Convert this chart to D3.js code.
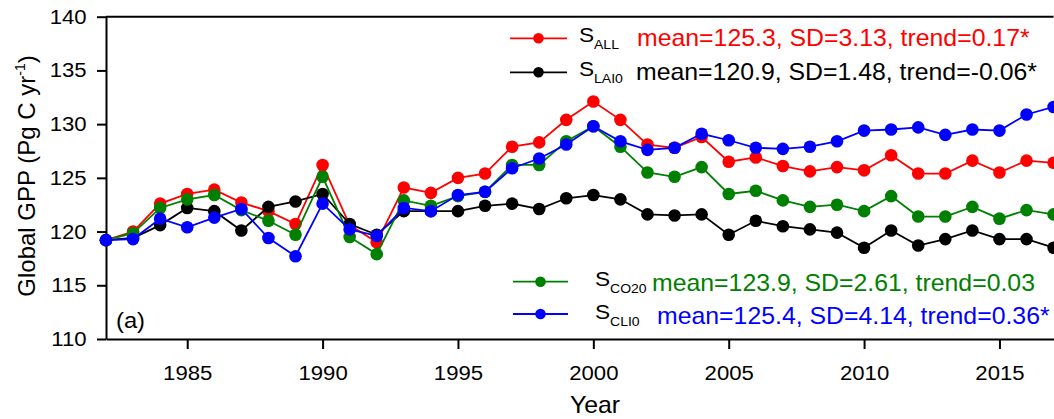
<!DOCTYPE html>
<html>
<head>
<meta charset="utf-8">
<script src="https://cdn.jsdelivr.net/npm/d3@7/dist/d3.min.js"></script>
<style>
  body { margin: 0; background: #fff; }
  text { font-family: "Liberation Sans", Arial, sans-serif; }
</style>
</head>
<body>
<div id="chart"></div>
<script>
// years on the x axis
var years = [1982, 1983, 1984, 1985, 1986, 1987, 1988, 1989, 1990, 1991, 1992, 1993,
             1994, 1995, 1996, 1997, 1998, 1999, 2000, 2001, 2002, 2003, 2004, 2005,
             2006, 2007, 2008, 2009, 2010, 2011, 2012, 2013, 2014, 2015, 2016, 2017];

// global GPP (Pg C / yr)
var sAll  = [119.2, 120.0, 122.6, 123.5, 123.9, 122.7, 121.9, 120.7, 126.2, 120.6, 119.0, 124.1,
             123.6, 125.0, 125.4, 127.9, 128.3, 130.4, 132.1, 130.4, 128.1, 127.8, 128.8, 126.5,
             126.9, 126.1, 125.6, 126.0, 125.7, 127.1, 125.4, 125.4, 126.6, 125.5, 126.6, 126.4];
var sLai0 = [119.2, 119.4, 120.6, 122.2, 121.9, 120.1, 122.3, 122.8, 123.5, 120.7, 119.7, 121.9,
             121.9, 121.9, 122.4, 122.6, 122.1, 123.1, 123.4, 123.0, 121.6, 121.5, 121.6, 119.7,
             121.0, 120.5, 120.2, 119.9, 118.5, 120.1, 118.7, 119.3, 120.1, 119.3, 119.3, 118.5];
var sCo20 = [119.2, 119.85, 122.2, 123.0, 123.4, 122.0, 121.0, 119.7, 125.1, 119.5, 117.9, 122.9,
             122.4, 123.3, 123.7, 126.2, 126.2, 128.4, 129.8, 127.9, 125.5, 125.1, 126.0, 123.5,
             123.8, 122.9, 122.3, 122.5, 121.9, 123.3, 121.4, 121.4, 122.3, 121.2, 122.0, 121.6];
var sCli0 = [119.2, 119.3, 121.2, 120.4, 121.3, 122.1, 119.4, 117.7, 122.6, 120.2, 119.6, 122.2,
             121.9, 123.4, 123.7, 125.9, 126.8, 128.1, 129.8, 128.4, 127.6, 127.8, 129.1, 128.5,
             127.8, 127.7, 127.9, 128.4, 129.4, 129.5, 129.7, 129.0, 129.5, 129.4, 130.9, 131.6];

var xTicks = [1985, 1990, 1995, 2000, 2005, 2010, 2015];
var yTicks = [110, 115, 120, 125, 130, 135, 140];

// legend labels
var seriesNames = ["ALL", "LAI0", "CO20", "CLI0"];
var seriesStats = ["mean=125.3, SD=3.13, trend=0.17*",
                   "mean=120.9, SD=1.48, trend=-0.06*",
                   "mean=123.9, SD=2.61, trend=0.03",
                   "mean=125.4, SD=4.14, trend=0.36*"];

var colors = { ALL: "#ff0000", LAI0: "#000000", CO20: "#008000", CLI0: "#0000ff" };
var seriesData = { ALL: sAll, LAI0: sLai0, CO20: sCo20, CLI0: sCli0 };

var W = 1054, H = 419;
var stretch = "scale(1.08,1)";

var svg = d3.select("#chart").append("svg")
    .attr("width", W)
    .attr("height", H);

var x = d3.scaleLinear().domain([1982, 2017]).range([106, 1053.6]);
var y = d3.scaleLinear().domain([110, 140]).range([339, 16.7]);

// axes
var xAxis = svg.append("g")
    .attr("transform", "translate(0," + y(110) + ")")
    .call(d3.axisBottom(x).tickValues(xTicks).tickFormat(d3.format("d"))
      .tickSize(10).tickSizeOuter(0).tickPadding(16));

var yAxis = svg.append("g")
    .attr("transform", "translate(" + x(1982) + ",0)")
    .call(d3.axisLeft(y).tickValues(yTicks).tickSize(9).tickSizeOuter(0).tickPadding(9));

[xAxis, yAxis].forEach(function(g) {
  g.select(".domain").attr("stroke-width", 2);
  g.selectAll(".tick line").attr("stroke-width", 2);
  g.selectAll(".tick text")
    .attr("font-size", 20.5)
    .attr("fill", "#000")
    .attr("font-family", "Liberation Sans, Arial, sans-serif")
    .attr("transform", stretch);
});

// top frame line
svg.append("line")
    .attr("x1", x(1982)).attr("x2", x(2017))
    .attr("y1", y(140)).attr("y2", y(140))
    .attr("stroke", "#000").attr("stroke-width", 2);

// series, drawn bottom to top
var drawOrder = ["ALL", "LAI0", "CO20", "CLI0"];
var line = d3.line()
    .x(function(d, i) { return x(years[i]); })
    .y(function(d) { return y(d); });

drawOrder.forEach(function(key) {
  var g = svg.append("g");
  g.append("path")
    .datum(seriesData[key])
    .attr("fill", "none")
    .attr("stroke", colors[key])
    .attr("stroke-width", 1.8)
    .attr("d", line);
  g.selectAll("circle")
    .data(seriesData[key])
    .enter().append("circle")
    .attr("cx", function(d, i) { return x(years[i]); })
    .attr("cy", function(d) { return y(d); })
    .attr("r", 6.3)
    .attr("fill", colors[key]);
});

// legends
var legendRows = [
  { key: "ALL",  ly: 38.3, lx1: 510, lx2: 567, sx: 579, subx: 594, mx: 637, sOff: 3.5, subOff: 11, mOff: 7.7 },
  { key: "LAI0", ly: 72.3, lx1: 510, lx2: 567, sx: 579, subx: 594, mx: 636, sOff: 3.5, subOff: 11, mOff: 7.7 },
  { key: "CO20", ly: 281.7, lx1: 513, lx2: 568, sx: 595, subx: 610, mx: 652, sOff: 4.5, subOff: 11.5, mOff: 9.5 },
  { key: "CLI0", ly: 314, lx1: 513, lx2: 568, sx: 595, subx: 610, mx: 657, sOff: 4.5, subOff: 11.5, mOff: 9.5 }
];

legendRows.forEach(function(r) {
  var idx = seriesNames.indexOf(r.key);
  var g = svg.append("g");
  g.append("line")
    .attr("x1", r.lx1).attr("x2", r.lx2)
    .attr("y1", r.ly).attr("y2", r.ly)
    .attr("stroke", colors[r.key]).attr("stroke-width", 1.8);
  g.append("circle")
    .attr("cx", (r.lx1 + r.lx2) / 2).attr("cy", r.ly)
    .attr("r", 5.3).attr("fill", colors[r.key]);
  g.append("text")
    .attr("transform", "translate(" + r.sx + "," + (r.ly + r.sOff) + ") " + stretch)
    .attr("font-size", 21).attr("fill", "#000")
    .text("S");
  g.append("text")
    .attr("transform", "translate(" + r.subx + "," + (r.ly + r.subOff) + ") " + stretch)
    .attr("font-size", 13).attr("fill", "#000")
    .text(seriesNames[idx]);
  g.append("text")
    .attr("transform", "translate(" + r.mx + "," + (r.ly + r.mOff) + ") " + stretch)
    .attr("font-size", 23).attr("fill", colors[r.key])
    .text(seriesStats[idx]);
});

// panel label
svg.append("text")
    .attr("transform", "translate(116,328) " + stretch)
    .attr("font-size", 22)
    .text("(a)");

// axis titles
svg.append("text")
    .attr("transform", "translate(595,413) " + stretch)
    .attr("text-anchor", "middle")
    .attr("font-size", 23)
    .text("Year");

var yt = svg.append("text")
    .attr("transform", "translate(35,176) rotate(-90)")
    .attr("text-anchor", "middle")
    .attr("font-size", 24);
yt.append("tspan").text("Global GPP (Pg C yr");
yt.append("tspan").attr("font-size", 14).attr("dy", -10).text("-1");
yt.append("tspan").attr("dy", 10).text(")");
</script>
</body>
</html>
